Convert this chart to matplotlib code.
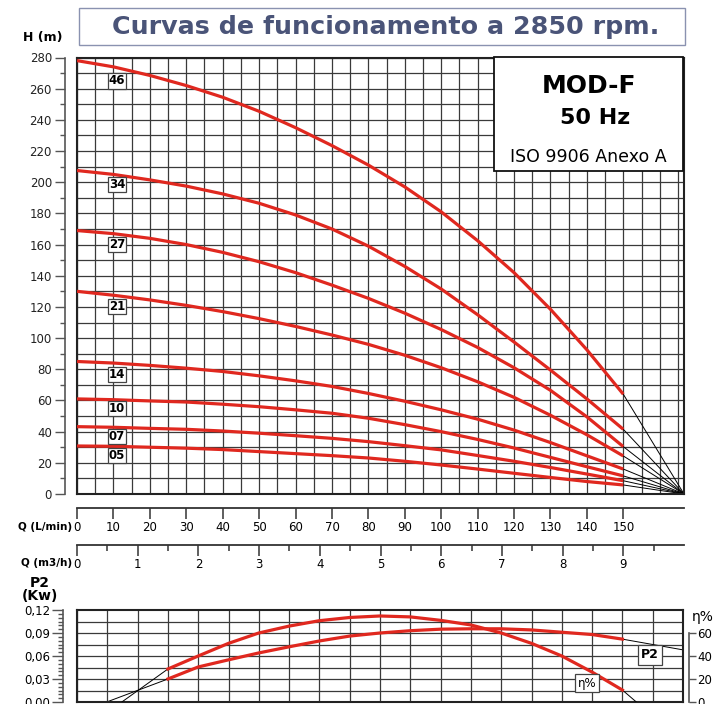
import numpy as np
import matplotlib
matplotlib.use('Agg')
import matplotlib.pyplot as plt
from matplotlib.patches import Rectangle
from matplotlib.ticker import MultipleLocator, FuncFormatter

W, H = 718, 704
RED = '#e0281f'
GRID = '#3a3a3a'

# curvas H (m) - Q (L/min) por numero de etapas
q_lmin = [0, 10, 20, 30, 40, 50, 60, 70, 80, 90, 100, 110, 120, 130, 140, 150]
h_46 = [278, 274, 268.5, 262, 254.5, 245.5, 235, 223.5, 211, 197, 181, 162.5, 142, 118.5, 92.5, 64]
h_34 = [207.5, 205, 201.5, 197.5, 192.5, 186.5, 179, 170, 159, 146, 131.5, 115, 97.5, 79.5, 61, 41.5]
h_27 = [169, 167, 164, 160, 155, 149, 142, 134, 125.5, 116, 105.5, 94, 81, 66.5, 49.5, 30.4]
h_21 = [130, 127.5, 124.5, 121, 117, 112.5, 107.5, 102, 96, 89, 81, 72, 62, 50.5, 38, 24.4]
h_14 = [85, 84, 82.5, 80.7, 78.6, 75.8, 72.6, 69, 64.5, 59.5, 54, 48, 41, 33, 24.5, 16]
h_10 = [61, 60.5, 59.7, 59, 57.6, 56, 54, 51.8, 48.6, 44.5, 40, 35, 29.5, 23.5, 17.5, 11.6]
h_07 = [43.2, 42.8, 42.1, 41.5, 40.4, 39, 37.4, 35.7, 33.6, 31, 28.3, 24.7, 21, 17, 12.8, 8.5]
h_05 = [30.8, 30.6, 30, 29.4, 28.5, 27.2, 25.9, 24.6, 23.1, 21, 18.6, 16, 13.3, 10.6, 8, 5.8]
stages = ['46', '34', '27', '21', '14', '10', '07', '05']
heads = [h_46, h_34, h_27, h_21, h_14, h_10, h_07, h_05]
label_h = [265, 198.7, 160, 120.3, 76.7, 54.8, 36.8, 24.5]
q_zero = 500 / 3  # todas las curvas cierran en H=0, 10 m3/h

# ejes de caudal
q_lmin_ticks = [0, 10, 20, 30, 40, 50, 60, 70, 80, 90, 100, 110, 120, 130, 140, 150]
q_m3h_ticks = [0, 1, 2, 3, 4, 5, 6, 7, 8, 9]

# potencia P2 (Kw) y rendimiento (%) - Q (m3/h)
q_m3h = [1.5, 2.0, 2.5, 3.0, 3.5, 4.0, 4.5, 5.0, 5.5, 6.0, 6.5, 7.0, 7.5, 8.0, 8.5, 9.0]
p2_kw = [0.030, 0.0457, 0.055, 0.064, 0.072, 0.0796, 0.086, 0.090, 0.093, 0.095, 0.0955,
         0.0955, 0.094, 0.091, 0.088, 0.082]
eta_pct = [28.7, 40, 51, 60, 66, 70.7, 73.5, 74.8, 74, 71, 67, 60, 51, 40, 26, 10.4]
p2_lo_q, p2_lo = [0.49, 1.5], [0.0, 0.030]
eta_lo_q, eta_lo = [0.74, 1.5], [0.0, 28.7]
p2_hi_q, p2_hi = [9.0, 10.0], [0.082, 0.068]
eta_hi_q, eta_hi = [9.0, 9.23], [10.4, 0.0]


def fx(px):
    return px / W


def fy(py):
    return 1 - py / H


fig = plt.figure(figsize=(W / 100, H / 100), dpi=100)

# ---------------- grafico principal H-Q
ax = fig.add_axes([fx(77), fy(494), (684 - 77) / W, (494 - 57.5) / H])
ax.set_xlim(0, q_zero)
ax.set_ylim(0, 280)
ax.set_xticks(np.arange(0, 166, 5))
ax.tick_params(axis='x', which='both', bottom=False, labelbottom=False)
ax.yaxis.set_major_locator(MultipleLocator(20))
ax.yaxis.set_minor_locator(MultipleLocator(10))
ax.grid(which='both', color=GRID, lw=0.9)
ax.set_axisbelow(True)
ax.spines['left'].set_position(('outward', 9))
ax.spines['left'].set_bounds(0, 280)
ax.spines['left'].set_color('#555555')
ax.spines['left'].set_linewidth(1.2)
for s in ['top', 'right', 'bottom']:
    ax.spines[s].set_linewidth(1.5)
    ax.spines[s].set_color('#222222')
ax.axvline(0, color='#222222', lw=1.5, clip_on=False)
ax.tick_params(axis='y', which='major', length=7.5, width=1, labelsize=8.5, pad=1.5,
               color='#555555', labelcolor='#222222')
ax.tick_params(axis='y', which='minor', length=3.8, width=1, color='#555555')

for name, hv in zip(stages, heads):
    ax.plot(q_lmin, hv, color=RED, lw=2.3, solid_capstyle='butt', solid_joinstyle='round', zorder=3)
    ax.plot([q_lmin[-1], q_zero], [hv[-1], 0], color='black', lw=0.7, zorder=2)

for name, ly in zip(stages, label_h):
    ax.text(11, ly, name, ha='center', va='center', fontsize=8.5, fontweight='bold', zorder=5,
            bbox=dict(boxstyle='square,pad=0.1', fc='white', ec='#444444', lw=0.9))

# caja MOD-F
fig.add_artist(Rectangle((fx(494), fy(171)), (683 - 494) / W, (171 - 57) / H,
                         transform=fig.transFigure, fc='white', ec='#111111', lw=1.3, zorder=2))
fig.text(fx(589), fy(86), 'MOD-F', ha='center', va='center', fontsize=18, fontweight='bold', zorder=3)
fig.text(fx(595), fy(118), '50 Hz', ha='center', va='center', fontsize=16, fontweight='bold', zorder=3)
fig.text(fx(588), fy(157), 'ISO 9906 Anexo A', ha='center', va='center', fontsize=12.5, zorder=3)

# titulo
fig.add_artist(Rectangle((fx(79), fy(45)), (685 - 79) / W, 37 / H, transform=fig.transFigure,
                         fill=False, ec='#8a92b0', lw=1.0))
fig.text(fx(386), fy(27), 'Curvas de funcionamento a 2850 rpm.', ha='center', va='center',
         fontsize=18.3, fontweight='bold', color='#4a5478')
fig.text(fx(43), fy(37), 'H (m)', ha='center', va='center', fontsize=9, fontweight='bold')

# ---------------- escalas de caudal
def q_axis(y_line, xmax, ticks, minor=None):
    a = fig.add_axes([fx(77), fy(y_line + 12), (684 - 77) / W, 12 / H])
    a.set_xlim(0, xmax)
    for s in ['left', 'right', 'bottom']:
        a.spines[s].set_visible(False)
    a.spines['top'].set_color('#333333')
    a.spines['top'].set_linewidth(1.3)
    a.set_yticks([])
    a.set_xticks(ticks)
    if minor is not None:
        a.set_xticks(minor, minor=True)
    a.tick_params(axis='x', which='both', top=True, bottom=False, labeltop=False,
                  labelbottom=True, direction='in', color='#333333', width=1.1)
    a.tick_params(axis='x', which='major', length=8, labelsize=8.5, pad=1)
    a.tick_params(axis='x', which='minor', length=4.5)
    a.patch.set_visible(False)
    return a


q_axis(508, q_zero, q_lmin_ticks)
q_axis(545, 10, q_m3h_ticks, minor=np.arange(0.5, 10, 1.0))
fig.text(fx(72), fy(527), 'Q (L/min)', ha='right', va='center', fontsize=7.5, fontweight='bold')
fig.text(fx(72), fy(563), 'Q (m3/h)', ha='right', va='center', fontsize=7.5, fontweight='bold')

# ---------------- grafico P2 / rendimiento
axp = fig.add_axes([fx(77), fy(702), (683 - 77) / W, (702 - 610) / H])
axp.set_xlim(0, 10)
axp.set_ylim(0, 0.12)
axp.set_xticks(np.arange(0, 10, 0.5))
axp.tick_params(axis='x', which='both', bottom=False, labelbottom=False)
axp.grid(axis='x', color=GRID, lw=0.9)
axp.hlines(np.arange(0.015, 0.12, 0.015), 0, 10, color=GRID, lw=0.9, zorder=0.5)
axp.set_yticks([0, 0.03, 0.06, 0.09, 0.12])
axp.yaxis.set_minor_locator(MultipleLocator(0.005))
axp.yaxis.set_major_formatter(FuncFormatter(lambda v, p: f'{v:.2f}'.replace('.', ',')))
axp.spines['left'].set_position(('outward', 10))
axp.spines['left'].set_bounds(0, 0.12)
axp.spines['left'].set_color('#555555')
axp.spines['left'].set_linewidth(1.2)
for s in ['top', 'right', 'bottom']:
    axp.spines[s].set_linewidth(1.5)
    axp.spines[s].set_color('#222222')
axp.axvline(0, color='#222222', lw=1.5, clip_on=False)
axp.tick_params(axis='y', which='major', length=8, width=1, labelsize=8.5, pad=1.5, color='#555555')
axp.tick_params(axis='y', which='minor', length=3.8, width=1, color='#555555')
axp.set_axisbelow(True)

axp.plot(q_m3h, p2_kw, color=RED, lw=2.3, solid_joinstyle='round', zorder=3)
axp.plot(p2_lo_q, p2_lo, color='black', lw=0.7, zorder=2)
axp.plot(p2_hi_q, p2_hi, color='black', lw=0.7, zorder=2)

axe = axp.twinx()
axe.set_ylim(0, 80)
axe.set_yticks([0, 20, 40, 60])
for s in ['left', 'top', 'bottom']:
    axe.spines[s].set_visible(False)
axe.spines['right'].set_position(('outward', 4))
axe.spines['right'].set_bounds(0, 60)
axe.spines['right'].set_color('#555555')
axe.spines['right'].set_linewidth(1.2)
axe.tick_params(axis='y', length=5, width=1, labelsize=8.5, pad=1, color='#555555')
axe.plot(q_m3h, eta_pct, color=RED, lw=2.3, solid_joinstyle='round', zorder=3)
axe.plot(eta_lo_q, eta_lo, color='black', lw=0.7, zorder=2)
axe.plot(eta_hi_q, eta_hi, color='black', lw=0.7, zorder=2)

axe.text(0.9455, 0.511, 'P2', transform=axp.transAxes, ha='center', va='center', fontsize=9,
         fontweight='bold', zorder=5,
         bbox=dict(boxstyle='square,pad=0.25', fc='white', ec='#444444', lw=0.9))
axe.text(0.8416, 0.2065, 'η%', transform=axp.transAxes, ha='center', va='center', fontsize=8.5,
         zorder=5, bbox=dict(boxstyle='square,pad=0.25', fc='white', ec='#444444', lw=0.9))

fig.text(fx(40), fy(583), 'P2', ha='center', va='center', fontsize=10, fontweight='bold')
fig.text(fx(40), fy(596), '(Kw)', ha='center', va='center', fontsize=10, fontweight='bold')
fig.text(fx(703), fy(617), 'η%', ha='center', va='center', fontsize=10)

fig.savefig('out.png', dpi=100)
